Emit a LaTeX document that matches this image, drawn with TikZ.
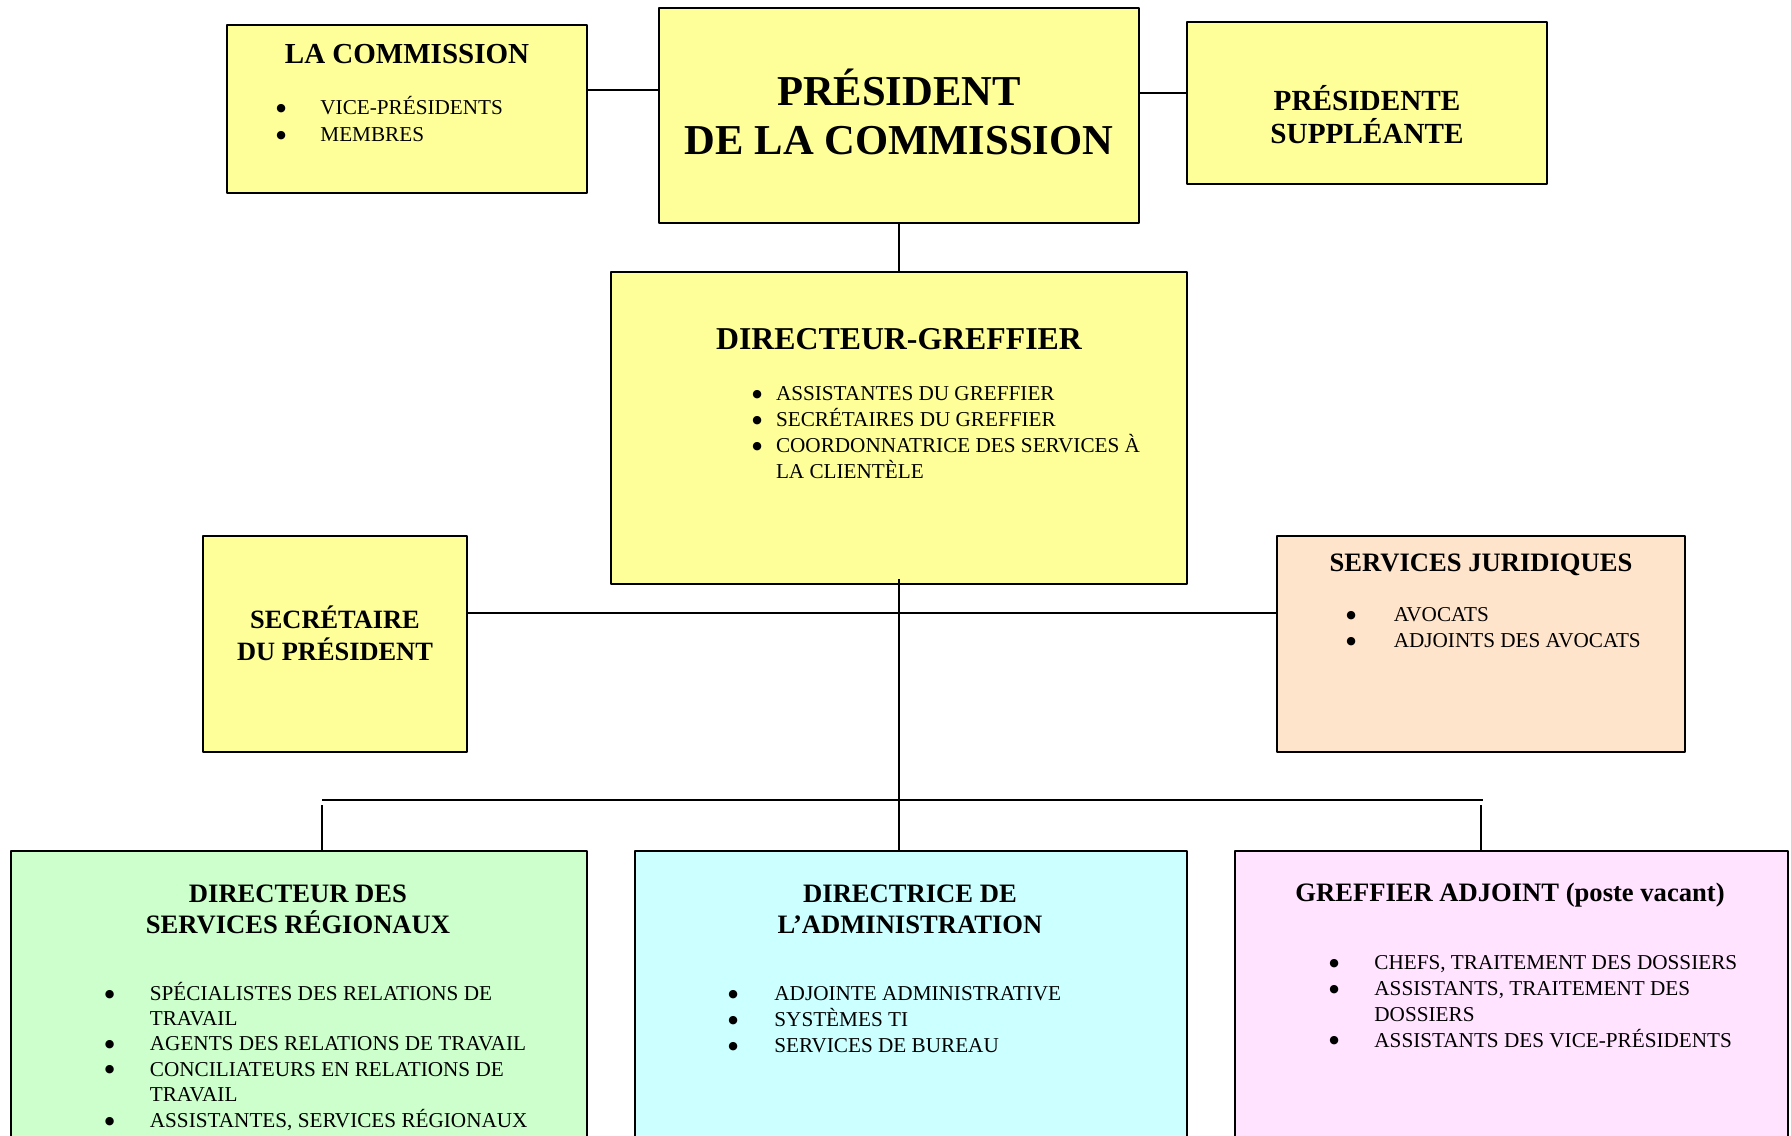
\documentclass[tikz,border=0pt]{standalone}
\usepackage{fontspec}
\setmainfont{Liberation Serif}
\newfontfamily\symbfont{DejaVu Sans}
\usepackage{tikz}
\usetikzlibrary{positioning}
\usetikzlibrary{calc}
\definecolor{jaune}{HTML}{FFFF99}
\definecolor{peche}{HTML}{FFE4CC}
\definecolor{vert}{HTML}{CCFFCC}
\definecolor{cyan2}{HTML}{CCFFFF}
\definecolor{rose}{HTML}{FFE3FF}
\tikzset{box/.style={draw, line width=1pt, fill=jaune, inner sep=0pt},
  lien/.style={line width=0.9pt},
  titre/.style={align=center, inner sep=0pt, font=\fontsize{13.3}{15.5}\selectfont\bfseries},
  liste/.style={anchor=north west, inner sep=0pt, font=\fontsize{10.6}{12.9}\selectfont}}
\newcommand{\puce}{\raisebox{1.6pt}{\fontsize{5.5}{6}\symbfont ●}}
\newcommand{\puces}[2]{\begin{tabular}{@{}p{#1}@{}l@{}}#2\end{tabular}}

\begin{document}
\begin{tikzpicture}[x=0.5pt,y=-0.5pt,line join=bevel]
\clip (0,0) rectangle (1791,1135);
%%
\node (commission) at (407,109) [box, minimum width=180pt, minimum height=84pt] {};
  \node (president) at (899,115.5) [box, minimum width=240pt, minimum height=107.5pt] {};
  \node (suppleante) at (1367,103) [box, minimum width=180pt, minimum height=81pt] {};
  \node (greffier) at (899,428) [box, minimum width=288pt, minimum height=156pt] {};
  \node (secretaire) at (335,644) [box, minimum width=132pt, minimum height=108pt] {};
  \node (juridiques) at (1481,644) [box, fill=peche, minimum width=204pt, minimum height=108pt] {};
  \node (regionaux) at (299,1051) [box, fill=vert, minimum width=288pt, minimum height=200pt] {};
  \node (administration) at (911,1051) [box, fill=cyan2, minimum width=276pt, minimum height=200pt] {};
  \node (adjoint) at (1511.5,1051) [box, fill=rose, minimum width=276.5pt, minimum height=200pt] {};
%
  \node (commission_t) at (407,54) [titre, font=\fontsize{14.5}{16.7}\selectfont\bfseries] {LA COMMISSION};
  \node (commission_l) at (276,95) [liste, font=\fontsize{10.6}{13.7}\selectfont] {\puces{22pt}{\puce & VICE-PRÉSIDENTS\\ \puce & MEMBRES}};
  \node (president_t) at (899,112) [titre, font=\fontsize{21.3}{24.5}\selectfont\bfseries] {PRÉSIDENT\\DE LA COMMISSION};
  \node (suppleante_t) at (1367,115) [titre, font=\fontsize{14.6}{16.6}\selectfont\bfseries] {PRÉSIDENTE\\SUPPLÉANTE};
  \node (greffier_t) at (899,339) [titre, font=\fontsize{15.9}{18}\selectfont\bfseries] {DIRECTEUR-GREFFIER};
  \node (greffier_l) at (752,382) [liste] {\puces{11.8pt}{\puce & ASSISTANTES DU GREFFIER\\ \puce & SECRÉTAIRES DU GREFFIER\\ \puce & COORDONNATRICE DES SERVICES À\\ & LA CLIENTÈLE}};
  \node (secretaire_t) at (335,633.5) [titre, font=\fontsize{13.2}{16}\selectfont\bfseries] {SECRÉTAIRE\\DU PRÉSIDENT};
  \node (juridiques_t) at (1481,564.5) [titre] {SERVICES JURIDIQUES};
  \node (juridiques_l) at (1346,603.5) [liste] {\puces{23.7pt}{\puce & AVOCATS\\ \puce & ADJOINTS DES AVOCATS}};
  \node (regionaux_t) at (298,909) [titre] {DIRECTEUR DES\\SERVICES RÉGIONAUX};
  \node (regionaux_l) at (104.5,981.6) [liste, font=\fontsize{10.6}{12.65}\selectfont] {\puces{22.5pt}{\puce & SPÉCIALISTES DES RELATIONS DE\\ & TRAVAIL\\ \puce & AGENTS DES RELATIONS DE TRAVAIL\\ \puce & CONCILIATEURS EN RELATIONS DE\\ & TRAVAIL\\ \puce & ASSISTANTES, SERVICES RÉGIONAUX}};
  \node (administration_t) at (910,909) [titre] {DIRECTRICE DE\\L’ADMINISTRATION};
  \node (administration_l) at (728,981.6) [liste, font=\fontsize{10.6}{13.1}\selectfont] {\puces{23pt}{\puce & ADJOINTE ADMINISTRATIVE\\ \puce & SYSTÈMES TI\\ \puce & SERVICES DE BUREAU}};
  \node (adjoint_t) at (1510,895.5) [titre] {GREFFIER ADJOINT (poste vacant)};
  \node (adjoint_l) at (1329,951) [liste] {\puces{22.5pt}{\puce & CHEFS, TRAITEMENT DES DOSSIERS\\ \puce & ASSISTANTS, TRAITEMENT DES\\ & DOSSIERS\\ \puce & ASSISTANTS DES VICE-PRÉSIDENTS}};
%
  \draw [lien] ([yshift=9.5pt]commission.east) -- ([yshift=9.5pt]commission.east -| president.west);
  \draw [lien] ([yshift=5pt]suppleante.west) -- ([yshift=5pt]suppleante.west -| president.east);
  \draw [lien] (president.south) -- (greffier.north);
  \draw [lien] ([yshift=15.5pt]secretaire.east) -- ([yshift=15.5pt]juridiques.west);
  \draw [lien] ([yshift=3pt]greffier.south) -- (greffier.south |- administration.north);
  \coordinate (bus_g) at (322,800);
  \coordinate (bus_d) at (1483,800);
  \draw [lien] (bus_g) -- (bus_d);
  \draw [lien] ([yshift=-2.5pt]bus_g) -- (bus_g |- regionaux.north);
  \draw [lien] ([xshift=-1pt,yshift=-2.5pt]bus_d) -- ([xshift=-1pt]bus_d |- adjoint.north);
%
\end{tikzpicture}
\end{document}
